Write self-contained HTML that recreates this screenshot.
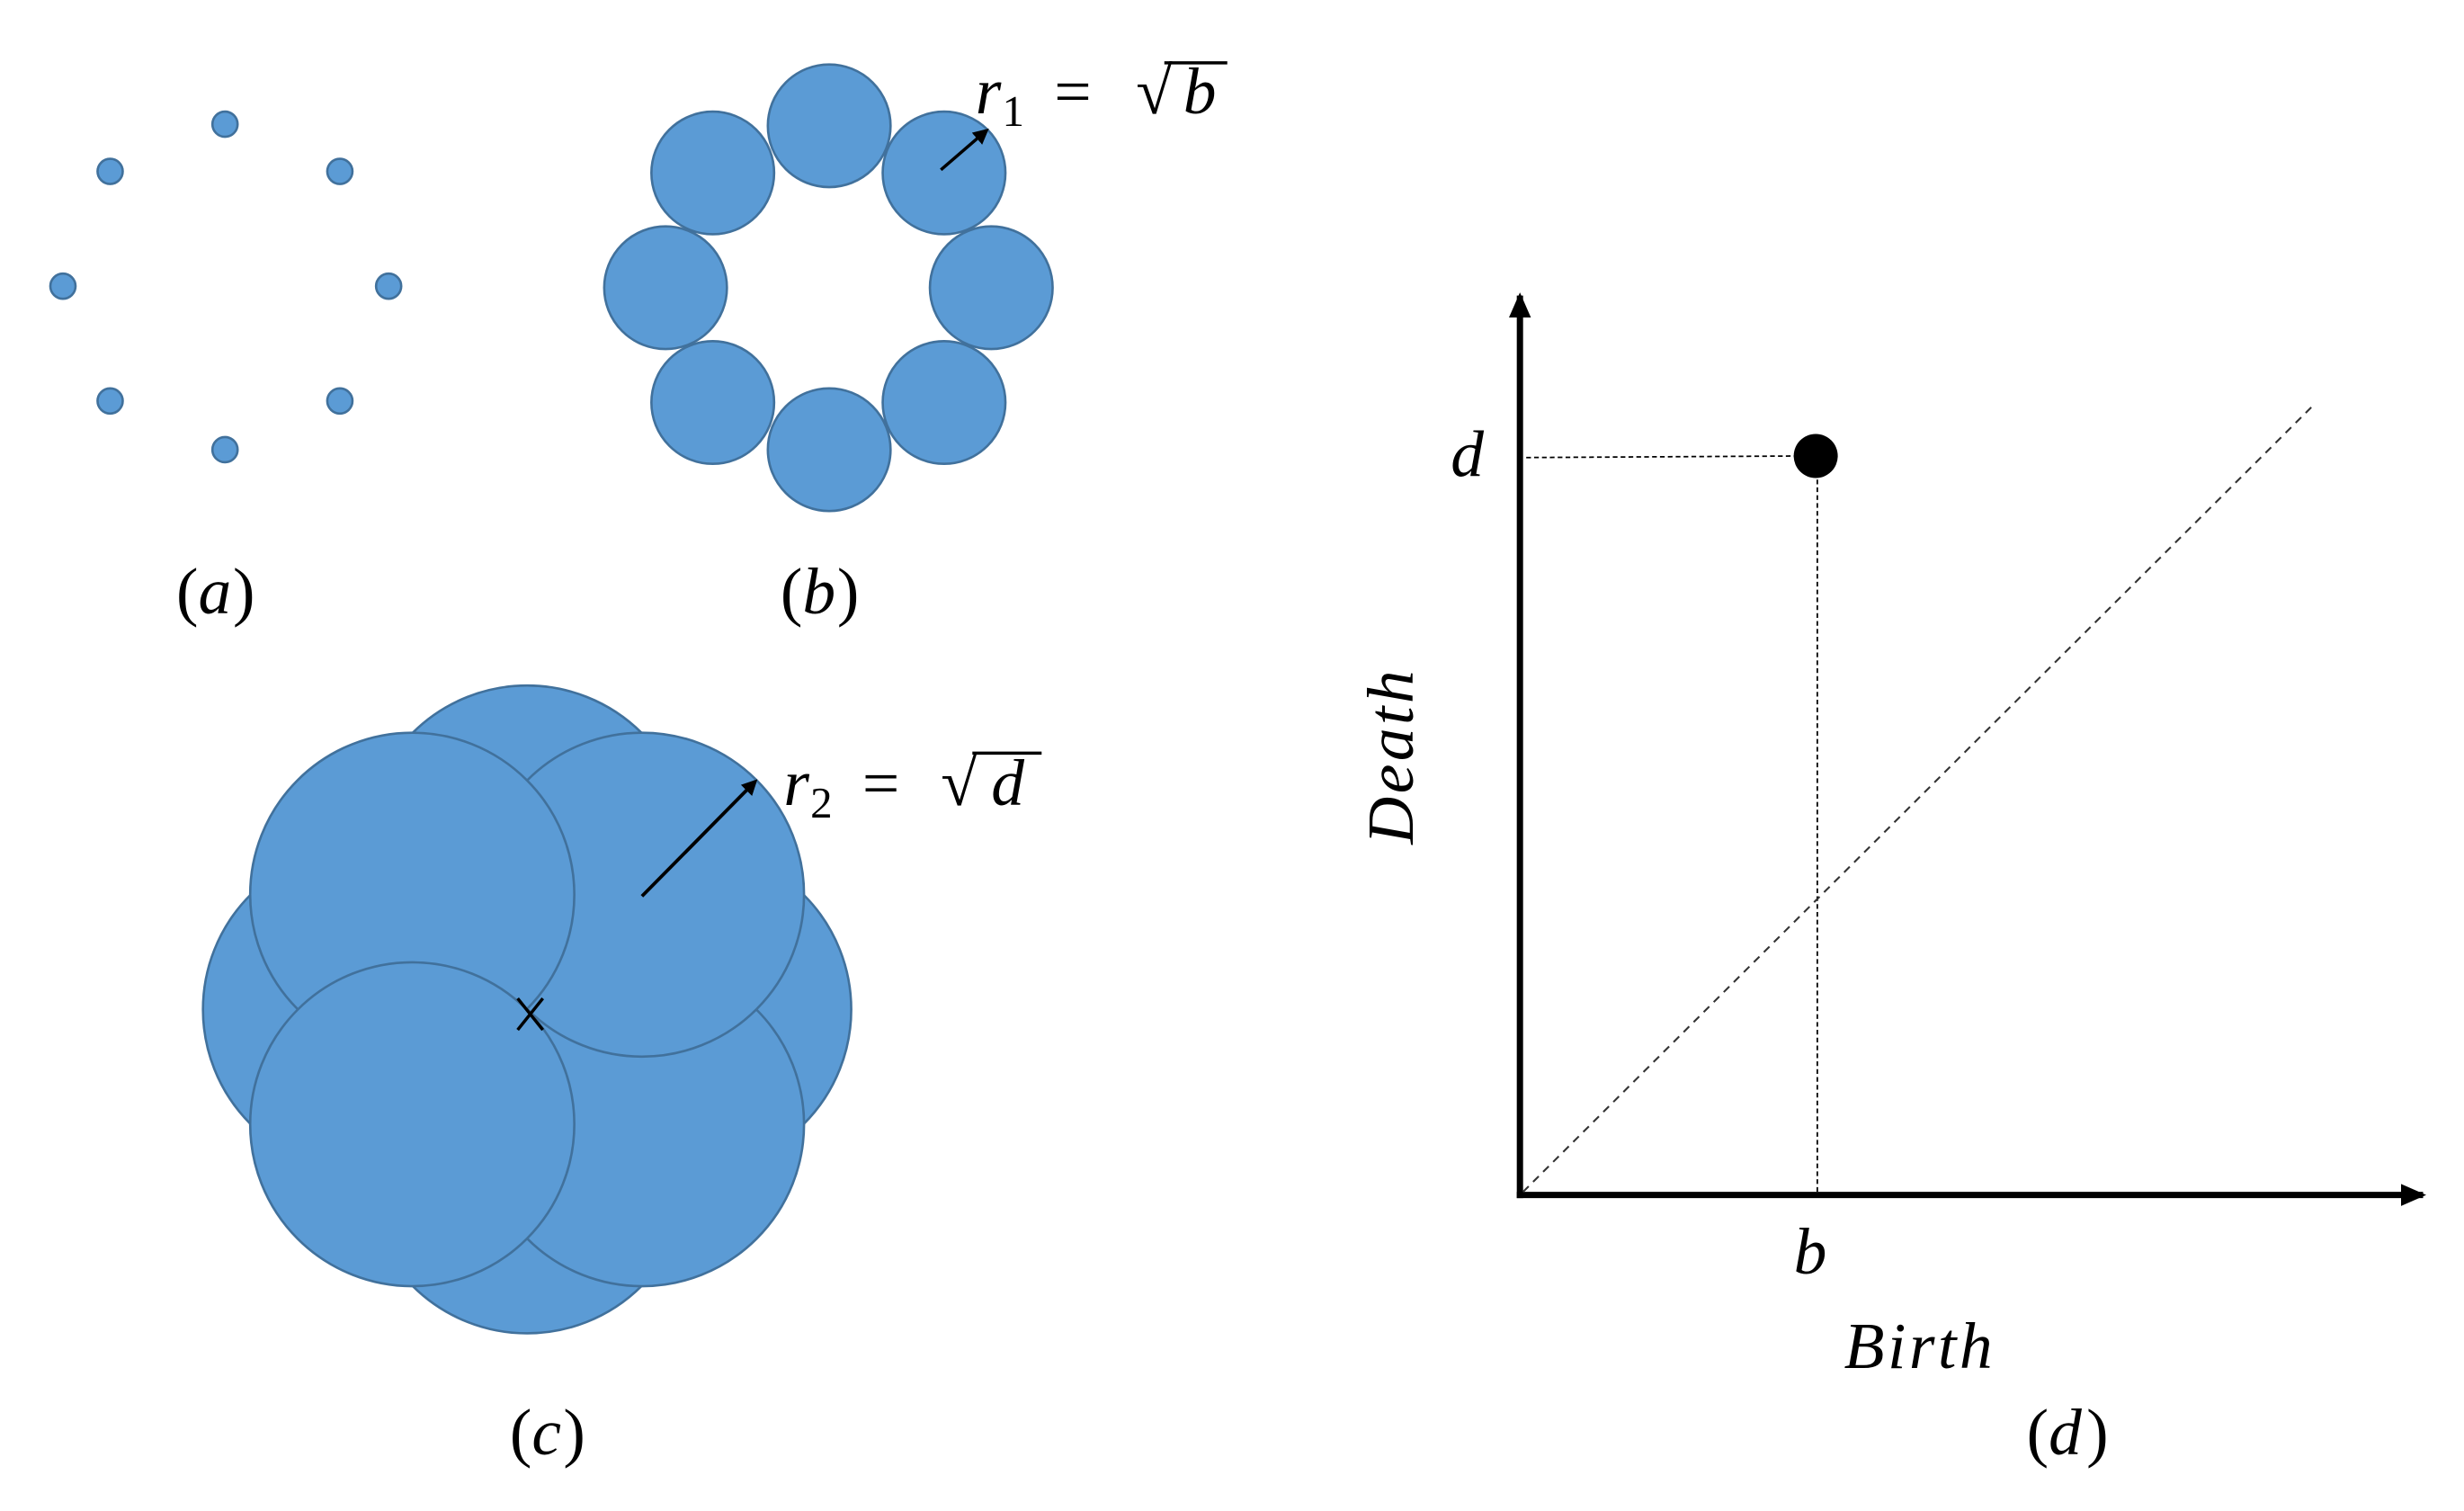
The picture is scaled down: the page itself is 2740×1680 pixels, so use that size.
<!DOCTYPE html>
<html><head><meta charset="utf-8"><style>
html,body{margin:0;padding:0;background:#fff;}
svg{display:block;}
text{font-family:"Liberation Serif",serif;font-style:italic;fill:#000;}
.up{font-style:normal;}
</style></head><body>
<svg width="2740" height="1680" viewBox="0 0 1566 961" preserveAspectRatio="none" xmlns="http://www.w3.org/2000/svg">
<defs>
<marker id="ah" markerWidth="10" markerHeight="10" refX="8" refY="5" orient="auto" markerUnits="userSpaceOnUse"><path d="M0,0 L10,5 L0,10 z" fill="#000"/></marker>
<marker id="ah2" markerWidth="16" markerHeight="14" refX="14" refY="7" orient="auto" markerUnits="userSpaceOnUse"><path d="M0,0 L16,7 L0,14 z" fill="#000"/></marker>
</defs>
<g fill="#5b9bd5" stroke="#41719c" stroke-width="1.5">
<circle cx="143" cy="79" r="8"/><circle cx="70" cy="109" r="8"/><circle cx="216" cy="109" r="8"/>
<circle cx="40" cy="182" r="8"/><circle cx="247" cy="182" r="8"/>
<circle cx="70" cy="255" r="8"/><circle cx="216" cy="255" r="8"/><circle cx="143" cy="286" r="8"/>
<circle cx="527" cy="80" r="39"/><circle cx="453" cy="110" r="39"/><circle cx="600" cy="110" r="39"/>
<circle cx="423" cy="183" r="39"/><circle cx="630" cy="183" r="39"/>
<circle cx="453" cy="256" r="39"/><circle cx="600" cy="256" r="39"/><circle cx="527" cy="286" r="39"/>
<circle cx="335" cy="539" r="103"/><circle cx="232" cy="642" r="103"/><circle cx="438" cy="642" r="103"/><circle cx="335" cy="745" r="103"/>
<circle cx="408" cy="715" r="103"/>
<circle cx="408" cy="569" r="103"/>
<circle cx="262" cy="569" r="103"/>
<circle cx="262" cy="715" r="103"/>
</g>
<line x1="598" y1="108" x2="627" y2="83" stroke="#000" stroke-width="2" marker-end="url(#ah)"/>
<text x="620" y="72" font-size="42">r</text><text x="637" y="80" font-size="28" class="up">1</text>
<text x="670" y="72" font-size="42" class="up">=</text>
<text x="722" y="72" font-size="42" class="up">√</text>
<line x1="740" y1="40" x2="780" y2="40" stroke="#000" stroke-width="2"/>
<text x="752" y="72" font-size="42">b</text>
<text x="112" y="390" font-size="42" class="up">(</text><text x="126" y="390" font-size="42">a</text><text x="148" y="390" font-size="42" class="up">)</text>
<text x="496" y="390" font-size="42" class="up">(</text><text x="510" y="390" font-size="42">b</text><text x="532" y="390" font-size="42" class="up">)</text>
<line x1="408" y1="570" x2="480" y2="497" stroke="#000" stroke-width="2.2" marker-end="url(#ah)"/>
<path d="M329,635 L345,655 M345,635 L329,655" stroke="#000" stroke-width="2"/>
<text x="498" y="512" font-size="42">r</text><text x="515" y="520" font-size="28" class="up">2</text>
<text x="548" y="512" font-size="42" class="up">=</text>
<text x="598" y="512" font-size="42" class="up">√</text>
<line x1="618" y1="479" x2="662" y2="479" stroke="#000" stroke-width="2"/>
<text x="630" y="512" font-size="42">d</text>
<text x="324" y="925" font-size="42" class="up">(</text><text x="338" y="925" font-size="42">c</text><text x="358" y="925" font-size="42" class="up">)</text>
<line x1="966" y1="762" x2="966" y2="188" stroke="#000" stroke-width="4" marker-end="url(#ah2)"/>
<line x1="964" y1="760" x2="1540" y2="760" stroke="#000" stroke-width="4" marker-end="url(#ah2)"/>
<line x1="970" y1="291" x2="1145" y2="290" stroke="#000" stroke-width="1" stroke-dasharray="3,2"/>
<line x1="1155" y1="300" x2="1155" y2="760" stroke="#000" stroke-width="1" stroke-dasharray="3,2"/>
<line x1="968" y1="758" x2="1470" y2="258" stroke="#333" stroke-width="1.2" stroke-dasharray="5,4"/>
<circle cx="1154" cy="290" r="14" fill="#000"/>
<text x="922" y="303" font-size="42">d</text>
<text x="1140" y="810" font-size="42">b</text>
<text x="1172" y="870" font-size="42" letter-spacing="2">Birth</text>
<text transform="translate(898,537) rotate(-90)" font-size="42" letter-spacing="2">Death</text>
<text x="1288" y="925" font-size="42" class="up">(</text><text x="1302" y="925" font-size="42">d</text><text x="1326" y="925" font-size="42" class="up">)</text>
</svg>
</body></html>
